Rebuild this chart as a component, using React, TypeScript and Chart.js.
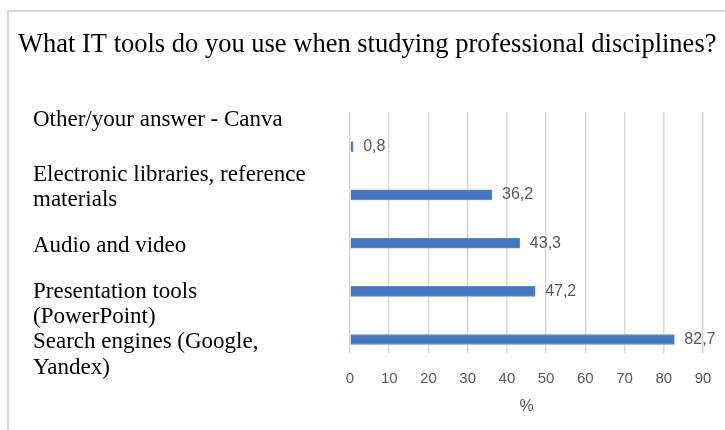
import React, { useEffect, useRef } from "react";
import { Chart, registerables } from "chart.js";

Chart.register(...registerables);

const chartTitle = "What IT tools do you use when studying professional disciplines?";
const categories: (string | string[])[] = [
  "Other/your answer - Canva",
  ["Electronic libraries, reference", "materials"],
  "Audio and video",
  ["Presentation tools", "(PowerPoint)"],
  ["Search engines (Google,", "Yandex)"],
];
const values = [0.8, 36.2, 43.3, 47.2, 82.7];
const xMin = 0;
const xMax = 90;
const xStep = 10;
const xAxisTitle = "%";

// layout-only: vertical shift of each category label relative to its bar (in category units)
const labelShift = [-0.56, -0.15, 0.05, 0.28, 0.32];

const titlePlugin = {
  id: "leftTitle",
  afterDraw(chart: any) {
    const ctx = chart.ctx;
    ctx.save();
    ctx.font = '26.5px "Liberation Serif", "Times New Roman", serif';
    ctx.fillStyle = "#000000";
    ctx.textAlign = "left";
    ctx.textBaseline = "middle";
    ctx.fillText(chartTitle, 18, 45);
    ctx.restore();
  },
};

const valueLabelPlugin = {
  id: "valueLabels",
  afterDatasetsDraw(chart: any) {
    const ctx = chart.ctx;
    const meta = chart.getDatasetMeta(0);
    ctx.save();
    ctx.font = '16px "Liberation Sans", Arial, sans-serif';
    ctx.fillStyle = "#595959";
    ctx.textAlign = "left";
    ctx.textBaseline = "middle";
    meta.data.forEach((bar: any, i: number) => {
      const txt = String(values[i]).replace(".", ",");
      ctx.fillText(txt, bar.x + 10, bar.y);
    });
    ctx.restore();
  },
};

export default function App() {
  const ref = useRef<HTMLCanvasElement | null>(null);

  useEffect(() => {
    if (!ref.current) return;
    const chart = new Chart(ref.current, {
      type: "bar",
      data: {
        datasets: [
          {
            data: values.map((v, i) => ({ x: v, y: i })),
            backgroundColor: "#4676BF",
            borderColor: "#5B8BD3",
            borderWidth: 1,
            barThickness: 10,
          },
        ],
      },
      options: {
        indexAxis: "y",
        responsive: false,
        animation: false,
        layout: { padding: { left: 33, right: 22, top: 112, bottom: 0 } },
        plugins: {
          legend: { display: false },
          title: { display: false },
          tooltip: { enabled: false },
        },
        scales: {
          x: {
            type: "linear",
            min: xMin,
            max: xMax,
            border: { display: false },
            grid: { color: "#d9d9d9", lineWidth: 1.5, drawTicks: false },
            ticks: {
              stepSize: xStep,
              padding: 17,
              color: "#595959",
              font: { family: '"Liberation Sans", Arial, sans-serif', size: 15 },
            },
            title: {
              display: true,
              text: xAxisTitle,
              color: "#595959",
              font: { family: '"Liberation Sans", Arial, sans-serif', size: 16 },
              padding: { top: 0, bottom: 14 },
            },
            afterFit(scale: any) {
              scale.height = 77;
              scale.paddingLeft = 0;
              scale.paddingRight = 0;
            },
          },
          y: {
            type: "linear",
            reverse: true,
            offset: false,
            min: -0.72,
            max: 4.28,
            grace: 0,
            border: { display: false },
            grid: { display: false, offset: false },
            afterBuildTicks(scale: any) {
              scale.ticks = categories.map((_, i) => ({ value: i + labelShift[i] }));
            },
            ticks: {
              autoSkip: false,
              crossAlign: "far",
              color: "#000000",
              font: { family: '"Liberation Serif", "Times New Roman", serif', size: 23, lineHeight: 1.1 },
              callback: (_v: any, i: number) => categories[i],
            },
            afterFit(scale: any) {
              scale.width = 317;
              scale.paddingTop = 0;
              scale.paddingBottom = 0;
            },
          },
        },
      } as any,
      plugins: [titlePlugin, valueLabelPlugin],
    });
    return () => chart.destroy();
  }, []);

  return (
    <div style={{ position: "fixed", left: 0, top: 0, width: 725, height: 430, background: "#ffffff", overflow: "hidden" }}>
      <div
        style={{
          position: "absolute",
          left: 7,
          top: 10,
          width: 740,
          height: 440,
          borderLeft: "2px solid #d9d9d9",
          borderTop: "2px solid #d9d9d9",
        }}
      />
      <canvas ref={ref} width={725} height={430} style={{ position: "absolute", left: 0, top: 0, width: 725, height: 430 }} />
    </div>
  );
}
